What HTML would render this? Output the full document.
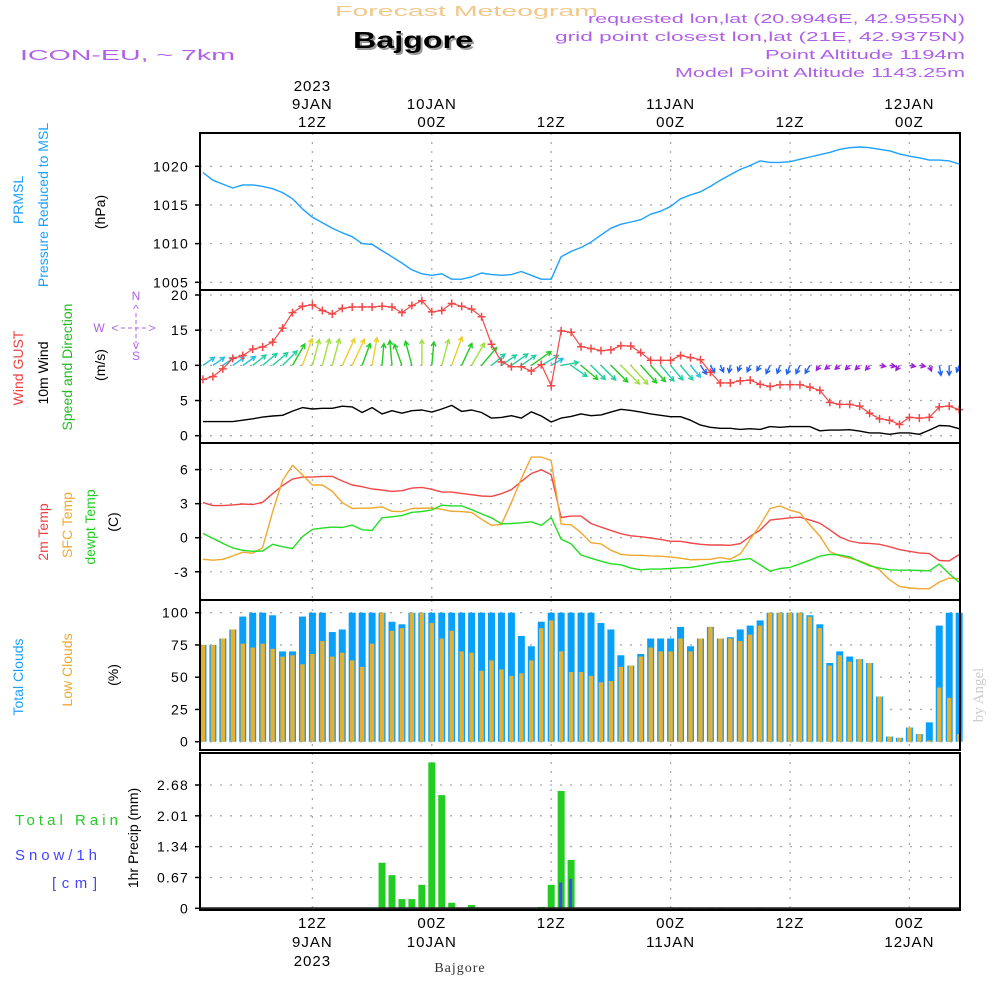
<!DOCTYPE html>
<html><head><meta charset="utf-8"><style>
html,body{margin:0;padding:0;background:#fff;}
svg{display:block;font-family:"Liberation Sans",sans-serif;}
</style></head><body>
<svg id="chart" width="1000" height="1000" viewBox="0 0 1000 1000" xmlns="http://www.w3.org/2000/svg">
<rect x="0" y="0" width="1000" height="1000" fill="#fff"/>
<g>
<text x="335" y="16" font-size="15" fill="#f2c88a" textLength="263" lengthAdjust="spacingAndGlyphs">Forecast Meteogram</text>
<text x="355" y="50" font-size="23" font-weight="bold" fill="#999" textLength="120" lengthAdjust="spacingAndGlyphs">Bajgore</text>
<text x="353" y="48" font-size="23" font-weight="bold" fill="#000" textLength="120" lengthAdjust="spacingAndGlyphs">Bajgore</text>
<text x="20" y="60" font-size="15" fill="#b060e8" textLength="215" lengthAdjust="spacingAndGlyphs">ICON-EU, ~ 7km</text>
<text x="588" y="23" font-size="13" fill="#b060e8" textLength="377" lengthAdjust="spacingAndGlyphs">requested lon,lat (20.9946E, 42.9555N)</text>
<text x="555" y="41" font-size="13" fill="#b060e8" textLength="410" lengthAdjust="spacingAndGlyphs">grid point closest lon,lat (21E, 42.9375N)</text>
<text x="765" y="59" font-size="13" fill="#b060e8" textLength="200" lengthAdjust="spacingAndGlyphs">Point Altitude 1194m</text>
<text x="675" y="77" font-size="13" fill="#b060e8" textLength="290" lengthAdjust="spacingAndGlyphs">Model Point Altitude 1143.25m</text>
</g>
<g font-size="14" text-anchor="middle">
<text transform="translate(23,200) rotate(-90)" fill="#1ea0ff">PRMSL</text>
<text transform="translate(48,205) rotate(-90)" fill="#1ea0ff">Pressure Reduced to MSL</text>
<text transform="translate(105,212) rotate(-90)" fill="#000">(hPa)</text>
<text transform="translate(23,368) rotate(-90)" fill="#f04040">Wind GUST</text>
<text transform="translate(48,373) rotate(-90)" fill="#000">10m Wind</text>
<text transform="translate(72,367) rotate(-90)" fill="#22bb22">Speed and Direction</text>
<text transform="translate(105,365) rotate(-90)" fill="#000">(m/s)</text>
<text transform="translate(48,532) rotate(-90)" fill="#f04040">2m Temp</text>
<text transform="translate(72,525) rotate(-90)" fill="#f0a830">SFC Temp</text>
<text transform="translate(95,527) rotate(-90)" fill="#22cc22">dewpt Temp</text>
<text transform="translate(118,522) rotate(-90)" fill="#000">(C)</text>
<text transform="translate(23,677) rotate(-90)" fill="#1ea0ff">Total Clouds</text>
<text transform="translate(72,670) rotate(-90)" fill="#f0a830">Low Clouds</text>
<text transform="translate(118,675) rotate(-90)" fill="#000">(%)</text>
<text transform="translate(138,838) rotate(-90)" fill="#000">1hr Precip (mm)</text>
</g>
<g fill="#b060e8" font-size="12" text-anchor="middle">
<text x="136" y="300">N</text>
<text x="136" y="360">S</text>
<text x="99" y="332">W</text>
<text x="136" y="313">^</text>
<text x="136" y="349">v</text>
<text x="115" y="332">&lt;</text>
<text x="152" y="332">&gt;</text>
<path d="M121,328H148M136,313V343" stroke="#b060e8" stroke-width="1" stroke-dasharray="4,3"/>
</g>
<g font-size="15">
<text x="15" y="825" fill="#22cc22" textLength="103" lengthAdjust="spacing">Total  Rain</text>
<text x="15" y="860" fill="#4444ff" textLength="82" lengthAdjust="spacing">Snow/1h</text>
<text x="52" y="888" fill="#4444ff" textLength="45" lengthAdjust="spacing">[cm]</text>
</g>
<text transform="translate(983,695) rotate(-90)" font-family="Liberation Serif,serif" font-size="15" fill="#ccc" text-anchor="middle">by Angel</text>
<text x="460" y="972" font-family="Liberation Serif,serif" font-size="14" fill="#333" text-anchor="middle" letter-spacing="1">Bajgore</text>
<g id="plots"></g>
</svg>
<script>
// ---- data (hourly, t = 1..77 hours after 00Z 9 JAN 2023) ----
const pressure = [1019.2,1018.2,1017.7,1017.2,1017.6,1017.6,1017.4,1017.1,1016.6,1015.8,1014.5,1013.4,1012.7,1012.0,1011.4,1010.9,1010.0,1009.9,1009.1,1008.3,1007.5,1006.6,1006.1,1005.9,1006.1,1005.4,1005.4,1005.7,1006.2,1006.0,1005.9,1006.0,1006.4,1005.9,1005.4,1005.4,1008.3,1009.0,1009.5,1010.2,1011.1,1012.0,1012.5,1012.8,1013.1,1013.8,1014.2,1014.8,1015.8,1016.3,1016.7,1017.4,1018.2,1018.9,1019.6,1020.1,1020.7,1020.5,1020.5,1020.6,1020.9,1021.2,1021.5,1021.8,1022.2,1022.4,1022.5,1022.4,1022.2,1022.0,1021.6,1021.3,1021.1,1020.8,1020.8,1020.7,1020.3];
const gust = [8.0,8.4,9.5,11,11.4,12.3,12.6,13.3,15.3,17.5,18.4,18.6,17.8,17.3,18.1,18.3,18.3,18.3,18.4,18.3,17.5,18.5,19.2,17.6,17.8,18.8,18.4,18.0,16.9,13.0,10.5,9.8,9.8,9.2,10.1,7.1,14.9,14.7,12.65,12.4,12.1,12.2,12.8,12.75,11.8,10.7,10.7,10.7,11.4,11.1,10.8,9.0,7.5,7.5,7.8,7.9,7.3,7.0,7.25,7.25,7.25,6.9,6.45,4.74,4.45,4.45,4.2,3.2,2.4,2.2,1.6,2.6,2.5,2.6,4.1,4.2,3.7];
const windSpeed = [2.0,2.0,2.0,2.0,2.2,2.4,2.65,2.8,2.9,3.5,4.0,3.8,3.9,3.9,4.2,4.1,3.3,4.0,3.1,3.55,3.2,3.55,3.65,3.35,3.8,4.3,3.45,3.65,3.3,2.5,2.6,2.85,2.5,3.4,2.8,1.95,2.5,2.75,3.1,2.85,2.95,3.35,3.75,3.6,3.35,3.1,2.9,2.7,2.7,2.2,1.5,1.2,1.05,1.05,0.9,1.0,0.9,1.3,1.2,1.3,1.3,1.3,0.7,0.8,0.8,0.85,0.65,0.4,0.4,0.2,0.4,0.4,0.2,0.8,1.45,1.4,1.0];
const windHeading = [55,55,55,55,55,52,50,50,45,30,20,15,15,15,25,25,20,10,5,355,340,345,0,5,15,20,25,30,40,50,55,55,55,55,60,60,80,125,130,135,135,135,135,138,138,138,140,140,140,140,145,150,155,190,200,205,210,205,200,200,205,210,215,230,230,225,225,220,100,100,215,100,100,160,170,180,200];
const temp2m = [3.09,2.83,2.83,2.89,2.97,2.92,3.12,3.88,4.6,5.16,5.34,5.34,5.4,5.4,5.0,4.64,4.49,4.29,4.2,4.08,4.14,4.37,4.43,4.26,4.02,4.02,3.9,3.79,3.67,3.64,3.88,4.23,4.96,5.66,5.98,5.54,1.78,1.9,1.9,1.25,0.93,0.64,0.35,0.17,0.09,-0.03,-0.15,-0.32,-0.32,-0.47,-0.58,-0.64,-0.64,-0.67,-0.52,0.12,0.67,1.55,1.66,1.75,1.81,1.55,1.28,0.7,0.06,-0.29,-0.47,-0.5,-0.58,-0.79,-1.05,-1.2,-1.34,-1.4,-2.01,-2.04,-1.49];
const sfcTemp = [-1.9,-1.98,-1.9,-1.6,-1.28,-1.37,-0.87,2.27,5.04,6.38,5.54,4.64,4.64,4.08,3.09,2.57,2.6,2.62,2.71,2.33,2.3,2.57,2.6,2.62,2.5,2.33,2.3,2.22,1.63,1.08,1.17,3.1,5.2,7.1,7.1,6.8,1.2,1.14,0.44,-0.44,-0.55,-1.11,-1.46,-1.55,-1.55,-1.6,-1.63,-1.69,-1.81,-1.95,-1.92,-1.9,-1.75,-1.9,-1.43,-0.15,1.11,2.57,2.8,2.42,2.19,1.11,0.15,-1.22,-1.6,-1.81,-2.04,-2.39,-2.83,-3.7,-4.29,-4.43,-4.49,-4.49,-3.9,-3.56,-3.62];
const dewTemp = [0.38,-0.06,-0.5,-0.9,-1.11,-1.2,-1.17,-0.58,-0.79,-0.96,0.09,0.73,0.85,0.93,0.9,1.11,0.7,0.64,1.75,1.84,1.95,2.24,2.3,2.45,2.86,2.8,2.8,2.48,2.1,1.75,1.22,1.25,1.31,1.4,1.08,1.78,-0.12,-0.55,-1.52,-1.81,-2.07,-2.3,-2.39,-2.68,-2.83,-2.77,-2.77,-2.71,-2.65,-2.62,-2.48,-2.3,-2.16,-2.1,-1.95,-1.84,-2.39,-2.94,-2.71,-2.62,-2.3,-1.98,-1.63,-1.46,-1.52,-1.69,-2.1,-2.48,-2.68,-2.83,-2.86,-2.86,-2.89,-2.92,-2.33,-3.18,-3.91];
const totalClouds = [75,75,80,87,97,100,100,98,70,70,97,100,100,85,87,100,100,100,100,93,91,100,100,100,100,100,100,100,100,100,100,100,82,74,93,100,100,100,100,100,92,87,67,59,68,80,80,80,89,74,80,89,80,81,87,90,94,100,100,100,100,98,91,61,70,66,64,61,35,4,3,11,6,15,90,100,100];
const lowClouds = [75,75,80,87,76,73,76,72,66,67,60,68,78,66,69,63,58,76,100,86,88,100,100,92,80,86,70,69,55,63,56,51,53,63,88,94,70,54,54,51,46,47,58,59,66,73,70,70,80,70,80,89,80,80,78,83,90,100,100,100,100,97,88,59,67,62,64,61,35,4,3,11,6,1,42,34,6];
const rain = [0,0,0,0,0,0,0,0,0,0,0,0,0,0,0,0,0,0,0.99,0.72,0.2,0.2,0.51,3.17,2.46,0.12,0,0.07,0,0,0,0,0,0,0.03,0.51,2.55,1.05,0,0,0,0,0,0,0,0,0,0.02,0.02,0.02,0,0.02,0.02,0,0,0,0.02,0,0,0,0,0,0,0,0,0,0,0,0,0,0,0,0,0,0,0,0];
const snow = [0,0,0,0,0,0,0,0,0,0,0,0,0,0,0,0,0,0,0,0,0,0,0,0,0,0,0,0,0,0,0,0,0,0,0,0,0.56,0.64,0,0,0,0,0,0,0,0,0,0.01,0.01,0.01,0,0.01,0.01,0,0,0,0,0,0,0,0,0,0,0,0,0,0,0,0,0,0,0,0,0,0,0,0];
const pressureTicks = [1005,1010,1015,1020];
const windTicks = [0,5,10,15,20];
const tempTicks = [-3,0,3,6];
const cloudTicks = [0,25,50,75,100];
const precipTicks = [0,0.67,1.34,2.01,2.68];
const timeMarks = [12,24,36,48,60,72];
const topLabels = [["2023","9JAN","12Z"],["","10JAN","00Z"],["","","12Z"],["","11JAN","00Z"],["","","12Z"],["","12JAN","00Z"]];
const bottomLabels = [["12Z","9JAN","2023"],["00Z","10JAN",""],["12Z","",""],["00Z","11JAN",""],["12Z","",""],["00Z","12JAN",""]];

const NS = 'http://www.w3.org/2000/svg';
const root = document.getElementById('plots');
const X0 = 200, X1 = 960;
const xT = t => 193 + 9.95 * t;
function lin(d0, d1, p0, p1) { return v => p0 + (v - d0) * (p1 - p0) / (d1 - d0); }
const yP = lin(1005, 1020, 282.3, 166.3);
const yW = lin(0, 20, 435.7, 295);
const yTm = lin(0, 6, 537.7, 469.6);
const yC = lin(0, 100, 741.7, 612.7);
const yR = lin(0, 2.68, 908.3, 785);
function mk(tag, attrs, parent) {
  const e = document.createElementNS(NS, tag);
  for (const k in attrs) e.setAttribute(k, attrs[k]);
  (parent || root).appendChild(e);
  return e;
}
const panels = [
  {name: 'pressure', top: 133, bot: 290, ticks: pressureTicks, y: yP, fmt: v => String(v)},
  {name: 'wind', top: 290, bot: 443, ticks: windTicks, y: yW, fmt: v => String(v)},
  {name: 'temperature', top: 443, bot: 600, ticks: tempTicks, y: yTm, fmt: v => String(v)},
  {name: 'clouds', top: 600, bot: 750, ticks: cloudTicks, y: yC, fmt: v => String(v)},
  {name: 'precip', top: 753, bot: 910, ticks: precipTicks, y: yR, fmt: v => v === 0 ? '0' : v.toFixed(2)}
];
panels.forEach(p => {
  const g = mk('g', {});
  
  
  p.ticks.forEach(v => {
    const yy = p.y(v);
    const l = mk('line', {x1: X0, x2: X1, y1: yy, y2: yy, stroke: '#aaa', 'stroke-width': 1.3, 'stroke-dasharray': '2,8'}, g);
    
    
    const tk = mk('line', {x1: X0 - 5, x2: X0, y1: yy, y2: yy, stroke: '#000', 'stroke-width': 1.5}, g);
    
    
    const tx = mk('text', {x: 189, y: yy + 5, 'text-anchor': 'end', 'font-size': 14, 'letter-spacing': 1.2, fill: '#000'}, g);
    
    
    tx.textContent = p.fmt(v);
  });
  timeMarks.forEach(t => {
    const l = mk('line', {x1: xT(t), x2: xT(t), y1: p.top, y2: p.bot, stroke: '#aaa', 'stroke-width': 1.3, 'stroke-dasharray': '2,7'}, g);
    
    
  });
});
function polyline(vals, yf, color, name, w) {
  const pts = vals.map((v, i) => xT(i + 1).toFixed(1) + ',' + yf(v).toFixed(1)).join(' ');
  const pl = mk('polyline', {points: pts, fill: 'none', stroke: color, 'stroke-width': w || 1.4, 'stroke-linejoin': 'round'});
  
  
  return pl;
}
polyline(pressure, yP, '#1ea0ff', 'pressure-line');
polyline(windSpeed, yW, '#000', 'wind-speed-line');
function speedColor(s) {
  if (s < 0.9) return '#9a20d8';
  if (s < 1.6) return '#2060f0';
  if (s < 2.35) return '#20c0e0';
  if (s < 3.0) return '#20d0a0';
  if (s < 3.6) return '#22cc22';
  if (s < 4.0) return '#a0e040';
  return '#e8d030';
}
const arrowG = mk('g', {});


windHeading.forEach((h, i) => {
  const s = windSpeed[i];
  const len = Math.max(s * 7.03, 6);
  const a = h * Math.PI / 180;
  const x1 = xT(i + 1), y1 = yW(10);
  const x2 = x1 + Math.sin(a) * len, y2 = y1 - Math.cos(a) * len;
  const c = speedColor(s);
  const hs = 5;
  const b1 = a + Math.PI - 0.5, b2 = a + Math.PI + 0.5;
  const d = `M${x1.toFixed(1)},${y1.toFixed(1)}L${x2.toFixed(1)},${y2.toFixed(1)}M${(x2 + Math.sin(b1) * hs).toFixed(1)},${(y2 - Math.cos(b1) * hs).toFixed(1)}L${x2.toFixed(1)},${y2.toFixed(1)}L${(x2 + Math.sin(b2) * hs).toFixed(1)},${(y2 - Math.cos(b2) * hs).toFixed(1)}`;
  const p = mk('path', {d: d, fill: 'none', stroke: c, 'stroke-width': 1.4}, arrowG);
  
  
});
polyline(gust, yW, '#f04848', 'gust-line', 1.2);
const gustG = mk('g', {});


gust.forEach((v, i) => {
  const x = xT(i + 1), y = yW(v);
  const p = mk('path', {d: `M${x - 4},${y}h8M${x},${y - 4}v8`, stroke: '#f04848', 'stroke-width': 1.5}, gustG);
  
  
});
polyline(temp2m, yTm, '#f04848', 'temp2m-line');
polyline(sfcTemp, yTm, '#f0a830', 'sfc-temp-line');
polyline(dewTemp, yTm, '#22dd22', 'dewpt-line');
const cloudG = mk('g', {});


totalClouds.forEach((v, i) => {
  const x = xT(i + 1);
  const b = mk('rect', {x: x - 3.5, y: yC(v), width: 7, height: yC(0) - yC(v), fill: '#08a0f8'}, cloudG);
  
  
  const lv = lowClouds[i];
  const o = mk('rect', {x: x - 2.2, y: yC(lv), width: 4.4, height: yC(0) - yC(lv), fill: '#e8b030'}, cloudG);
  
  
});
const precG = mk('g', {});


rain.forEach((v, i) => {
  if (v <= 0) return;
  const x = xT(i + 1);
  const b = mk('rect', {x: x - 3.5, y: yR(v), width: 7, height: yR(0) - yR(v), fill: '#22cc22'}, precG);
  
  
});
snow.forEach((v, i) => {
  if (v <= 0) return;
  const x = xT(i + 1);
  const b = mk('rect', {x: x - 2, y: yR(v), width: 3, height: yR(0) - yR(v), fill: '#4444ff'}, precG);
  
  
});
const base = mk('line', {x1: X0, x2: X1, y1: yR(0), y2: yR(0), stroke: '#222', 'stroke-width': 2});


panels.forEach(p => {
  const r = mk('rect', {x: X0, y: p.top, width: X1 - X0, height: p.bot - p.top, fill: 'none', stroke: '#000', 'stroke-width': 2});
  
  
});
timeMarks.forEach((t, k) => {
  const x = xT(t);
  topLabels[k].forEach((s, j) => {
    if (!s) return;
    const tx = mk('text', {x: x, y: 91 + j * 18, 'text-anchor': 'middle', 'font-size': 15, 'letter-spacing': 1, fill: '#000'});
    
    
    tx.textContent = s;
  });
  bottomLabels[k].forEach((s, j) => {
    if (!s) return;
    const tx = mk('text', {x: x, y: 928 + j * 19, 'text-anchor': 'middle', 'font-size': 15, 'letter-spacing': 1, fill: '#000'});
    
    
    tx.textContent = s;
  });
});
</script>
</body></html>
